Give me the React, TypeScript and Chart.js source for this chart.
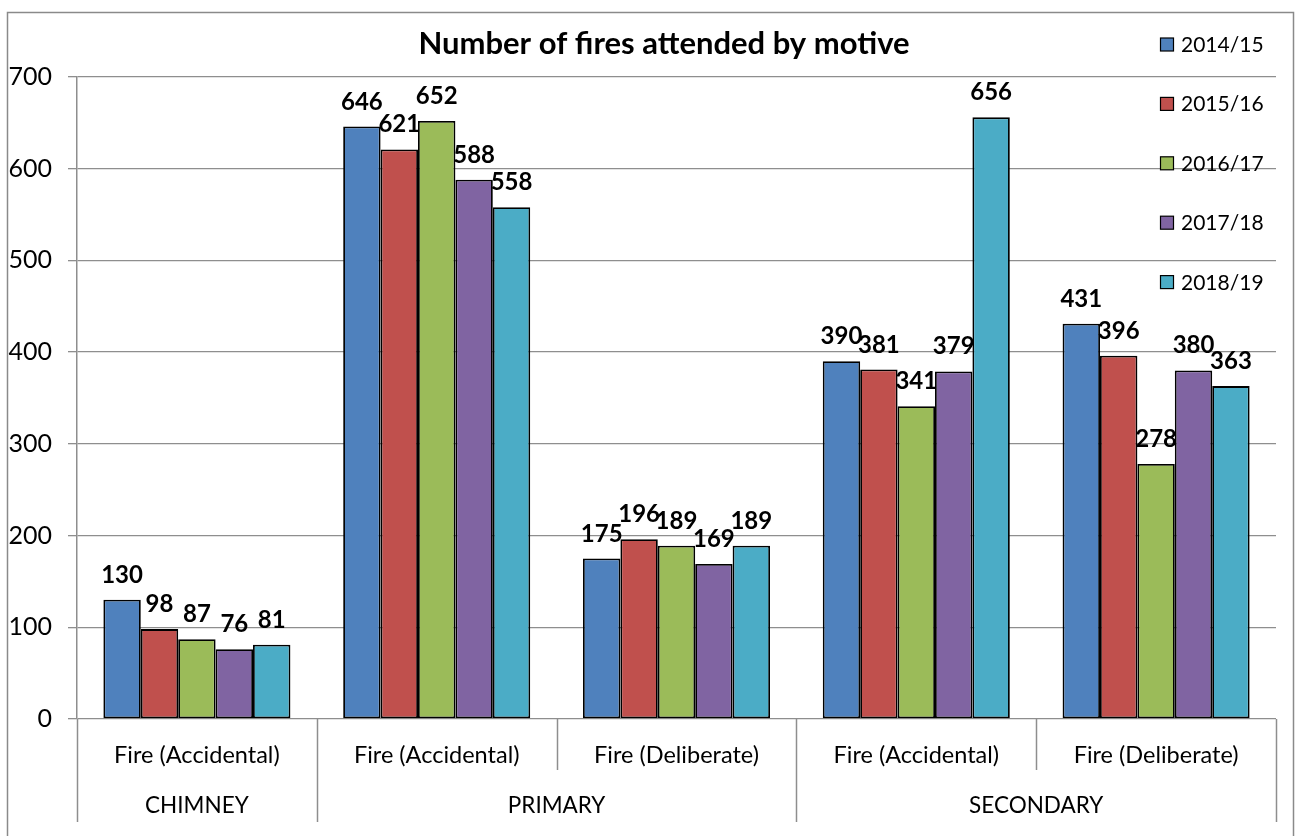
import React, { useEffect, useRef } from "react";
import { Chart, registerables } from "chart.js";

Chart.register(...registerables);

const chartTitle = "Number of fires attended by motive";
const groups = ["CHIMNEY", "PRIMARY", "SECONDARY"];
const groupSpans = [1, 2, 2];
const categories = [
  "Fire (Accidental)",
  "Fire (Accidental)",
  "Fire (Deliberate)",
  "Fire (Accidental)",
  "Fire (Deliberate)",
];
const seriesNames = ["2014/15", "2015/16", "2016/17", "2017/18", "2018/19"];
const v2014 = [130, 646, 175, 390, 431];
const v2015 = [98, 621, 196, 381, 396];
const v2016 = [87, 652, 189, 341, 278];
const v2017 = [76, 588, 169, 379, 380];
const v2018 = [81, 558, 189, 656, 363];
const seriesValues = [v2014, v2015, v2016, v2017, v2018];
const seriesColors = ["#4F81BD", "#C0504D", "#9BBB59", "#8064A2", "#4BACC6"];
const yMin = 0;
const yMax = 700;
const yStep = 100;

const FONT = "Lato, 'Open Sans', sans-serif";
const GRID = "#8e8e8e";

const decorPlugin = {
  id: "decor",
  afterDraw(chart: any) {
    const ctx = chart.ctx;
    const area = chart.chartArea;
    const xs = chart.scales.x;
    ctx.save();
    // outer border
    ctx.strokeStyle = "#8a8a8a";
    ctx.lineWidth = 1.5;
    ctx.strokeRect(7.5, 12.5, 1286, 840);

    // title
    ctx.fillStyle = "#000";
    ctx.font = `bold 31px ${FONT}`;
    ctx.textAlign = "center";
    ctx.textBaseline = "alphabetic";
    ctx.fillText(chartTitle, 664, 54);

    // data labels
    ctx.font = `bold 24px ${FONT}`;
    chart.data.datasets.forEach((ds: any, di: number) => {
      const meta = chart.getDatasetMeta(di);
      meta.data.forEach((el: any, i: number) => {
        ctx.fillText(String(ds.data[i]), el.x, el.y - 17);
      });
    });

    // multi-level category axis
    const n = categories.length;
    const w = (area.right - area.left) / n;
    const bottomShort = 770;
    const bottomLong = 822;
    const longIdx = new Set<number>([0]);
    let acc = 0;
    groupSpans.forEach((s) => {
      acc += s;
      longIdx.add(acc);
    });
    ctx.strokeStyle = GRID;
    ctx.lineWidth = 1.5;
    for (let k = 0; k <= n; k++) {
      const x = Math.round(area.left + k * w) + 0.5;
      ctx.beginPath();
      ctx.moveTo(x, area.bottom);
      ctx.lineTo(x, longIdx.has(k) ? bottomLong : bottomShort);
      ctx.stroke();
    }
    ctx.fillStyle = "#000";
    ctx.font = `23.5px ${FONT}`;
    ctx.textAlign = "center";
    categories.forEach((c, i) => {
      ctx.fillText(c, xs.getPixelForValue(i), 763);
    });
    ctx.font = `22.5px ${FONT}`;
    let start = 0;
    groups.forEach((g, gi) => {
      const s = groupSpans[gi];
      const x0 = area.left + start * w;
      const x1 = area.left + (start + s) * w;
      ctx.fillText(g, (x0 + x1) / 2, 813);
      start += s;
    });

    // legend
    ctx.font = `21px ${FONT}`;
    ctx.textAlign = "left";
    chart.data.datasets.forEach((ds: any, di: number) => {
      const cy = 44.5 + di * 59.4;
      ctx.fillStyle = ds.backgroundColor;
      ctx.fillRect(1160.5, cy - 6.5, 13, 13);
      ctx.strokeStyle = "#000";
      ctx.lineWidth = 1.2;
      ctx.strokeRect(1160.5, cy - 6.5, 13, 13);
      ctx.fillStyle = "#000";
      ctx.fillText(ds.label, 1181, cy + 7.5);
    });
    ctx.restore();
  },
};

export default function App() {
  const ref = useRef<HTMLCanvasElement | null>(null);
  useEffect(() => {
    if (!ref.current) return;
    const chart = new Chart(ref.current, {
      type: "bar",
      data: {
        labels: categories,
        datasets: seriesNames.map((name, i) => ({
          label: name,
          data: seriesValues[i],
          backgroundColor: seriesColors[i],
          borderColor: "#000",
          borderWidth: 1.8,
          borderSkipped: false,
          categoryPercentage: 0.78,
          barPercentage: 1,
        })),
      },
      options: {
        animation: false,
        responsive: false,
        layout: { padding: { top: 77, right: 22, left: 0, bottom: 0 } },
        plugins: {
          legend: { display: false },
          title: { display: false },
          tooltip: { enabled: false },
        },
        scales: {
          x: {
            ticks: { display: false },
            grid: { display: false },
            border: { display: false },
            afterFit: (s: any) => {
              s.height = 117;
            },
          },
          y: {
            min: yMin,
            max: yMax,
            ticks: {
              stepSize: yStep,
              color: "#000",
              font: { family: FONT, size: 25 },
              padding: 16,
            },
            grid: { color: GRID, lineWidth: 1.3, tickLength: 9 },
            border: { display: true, color: GRID, width: 1.5 },
            afterFit: (s: any) => {
              s.width = 77;
            },
          },
        },
      },
      plugins: [decorPlugin],
    });
    return () => chart.destroy();
  }, []);
  return (
    <div style={{ position: "absolute", left: 0, top: 0, width: 1298, height: 836, background: "#fff" }}>
      <canvas ref={ref} width={1298} height={836} style={{ display: "block" }} />
    </div>
  );
}
